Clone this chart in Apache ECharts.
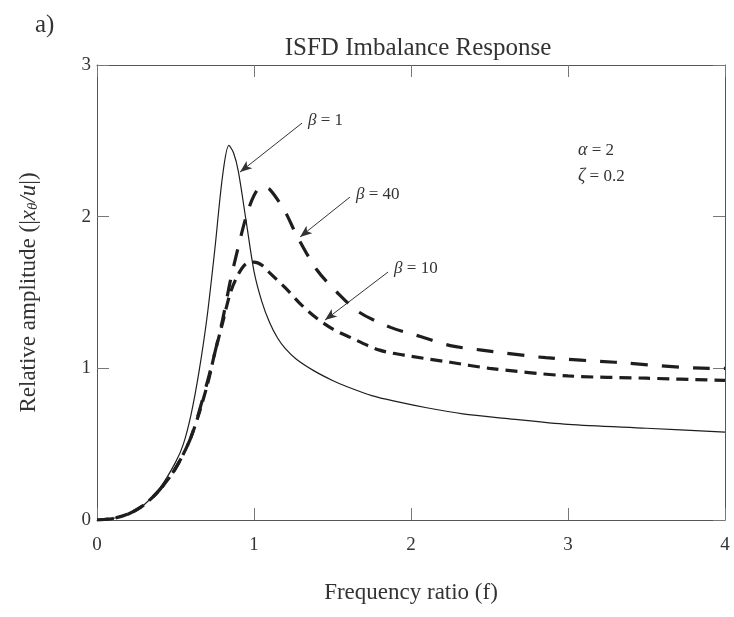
<!DOCTYPE html>
<html>
<head>
<meta charset="utf-8">
<script src="https://cdn.jsdelivr.net/npm/echarts@6/dist/echarts.min.js"></script>
<style>
html,body{margin:0;padding:0;background:#fff;}
#c{width:734px;height:617px;}
</style>
</head>
<body>
<div id="c"></div>
<script>
// Frequency ratio / amplitude readings
var fB1 = [0, 0.1, 0.2, 0.3, 0.4, 0.5, 0.55, 0.6, 0.65, 0.7, 0.75, 0.8, 0.84, 0.87, 0.9, 0.95, 1.0, 1.05, 1.1, 1.15, 1.2, 1.27, 1.38, 1.5, 1.59, 1.75, 1.91, 2.1, 2.33, 2.6, 3.0, 3.5, 4.0];
var vB1 = [0, 0.01, 0.04, 0.1, 0.21, 0.38, 0.5, 0.7, 0.98, 1.33, 1.78, 2.27, 2.47, 2.42, 2.3, 1.97, 1.64, 1.44, 1.30, 1.20, 1.13, 1.06, 0.985, 0.92, 0.88, 0.82, 0.78, 0.74, 0.70, 0.67, 0.63, 0.605, 0.58];

var fB40 = [0, 0.1, 0.2, 0.3, 0.4, 0.5, 0.6, 0.7, 0.75, 0.8, 0.85, 0.9, 0.95, 1.0, 1.05, 1.1, 1.2, 1.27, 1.4, 1.53, 1.67, 1.87, 2.06, 2.25, 2.45, 2.86, 3.3, 3.9, 4.0];
var vB40 = [0, 0.01, 0.04, 0.1, 0.2, 0.34, 0.55, 0.9, 1.1, 1.32, 1.58, 1.8, 2.0, 2.14, 2.2, 2.18, 2.03, 1.88, 1.65, 1.5, 1.37, 1.27, 1.21, 1.15, 1.12, 1.07, 1.04, 1.0, 1.0];

var fB10 = [0, 0.1, 0.2, 0.3, 0.4, 0.5, 0.6, 0.7, 0.75, 0.8, 0.85, 0.9, 0.95, 1.0, 1.05, 1.1, 1.2, 1.3, 1.4, 1.5, 1.6, 1.8, 2.0, 2.25, 2.5, 3.0, 3.5, 4.0];
var vB10 = [0, 0.01, 0.04, 0.1, 0.2, 0.34, 0.55, 0.88, 1.1, 1.3, 1.5, 1.62, 1.69, 1.70, 1.68, 1.63, 1.53, 1.42, 1.33, 1.26, 1.21, 1.12, 1.08, 1.04, 1.0, 0.95, 0.935, 0.92];

var xTicks = [0, 1, 2, 3, 4];
var yTicks = [0, 1, 2, 3];

// annotation arrows: [label, startF, startV, endF, endV]
var arrowB1 = ['1', 1.306, 2.617, 0.911, 2.294];
var arrowB40 = ['40', 1.611, 2.129, 1.293, 1.866];
var arrowB10 = ['10', 1.854, 1.635, 1.452, 1.318];
var paramText = ['{i|α} = 2', '{i|ζ} = 0.2'];
var paramPos = [3.064, 2.35];

function pairs(f, v) { return f.map(function (x, i) { return [x, v[i]]; }); }

var serif = 'Liberation Serif';
var ink = '#1e1e1e';
var txt = '#333';

function arrow(a) {
  return {
    silent: true,
    symbol: ['none', 'arrow'],
    symbolSize: [7, 12],
    lineStyle: { color: '#333', width: 1, type: 'solid' },
    label: { show: false },
    data: [[{ coord: [a[1], a[2]] }, { coord: [a[3], a[4]] }]]
  };
}

function arrowLabel(a, extra) {
  var pts = [{
    coord: [a[1], a[2]],
    label: {
      show: true, position: 'right', distance: 6, offset: [0, -3],
      formatter: '{i|β} = ' + a[0],
      fontFamily: serif, fontSize: 17, color: txt,
      rich: { i: { fontFamily: serif, fontStyle: 'italic', fontSize: 17, color: txt } }
    }
  }];
  if (extra) pts.push(extra);
  return { silent: true, symbol: 'circle', symbolSize: 0, data: pts };
}

var chart = echarts.init(document.getElementById('c'), null, { renderer: 'canvas' });
var axisLineStyle = { color: '#555', width: 1 };
var tickStyle = { color: '#777', width: 1 };
chart.setOption({
  animation: false,
  backgroundColor: '#fff',
  title: {
    text: 'ISFD Imbalance Response',
    left: 413, top: 31, textAlign: 'center',
    textStyle: { fontFamily: serif, fontWeight: 'normal', fontSize: 25, color: txt }
  },
  graphic: [{
    type: 'text', left: 35, top: 13,
    style: { text: 'a)', fontFamily: serif, fontSize: 25, fill: txt }
  }],
  grid: { left: 97, right: 9, top: 65, bottom: 97, containLabel: false },
  xAxis: [{
    type: 'value', min: 0, max: 4, interval: 1,
    name: 'Frequency ratio (f)', nameLocation: 'middle', nameGap: 61,
    nameTextStyle: { fontFamily: serif, fontSize: 23, color: txt },
    axisLine: { show: true, onZero: false, lineStyle: axisLineStyle },
    axisTick: { show: true, inside: true, length: 12, lineStyle: tickStyle },
    axisLabel: { fontFamily: serif, fontSize: 19, color: txt, margin: 16 },
    splitLine: { show: false }
  }, {
    type: 'value', min: 0, max: 4, interval: 1, position: 'top',
    axisLine: { show: true, onZero: false, lineStyle: axisLineStyle },
    axisTick: { show: true, inside: true, length: 12, lineStyle: tickStyle },
    axisLabel: { show: false }, splitLine: { show: false }
  }],
  yAxis: [{
    type: 'value', min: 0, max: 3, interval: 1,
    name: '{n|Relative amplitude (|}{i|x}{s|θ}{i|/u}{n||)}', nameLocation: 'middle', nameGap: 56,
    nameRotate: 90,
    nameTextStyle: {
      fontFamily: serif, fontSize: 23, color: txt,
      rich: {
        n: { fontFamily: serif, fontSize: 23, color: txt },
        i: { fontFamily: serif, fontSize: 23, fontStyle: 'italic', color: txt },
        s: { fontFamily: serif, fontSize: 15, fontStyle: 'italic', color: txt, padding: [10, 0, 0, 0] }
      }
    },
    axisLine: { show: true, onZero: false, lineStyle: axisLineStyle },
    axisTick: { show: true, inside: true, length: 12, lineStyle: tickStyle },
    axisLabel: { fontFamily: serif, fontSize: 19, color: txt, margin: 6 },
    splitLine: { show: false }
  }, {
    type: 'value', min: 0, max: 3, interval: 1, position: 'right',
    axisLine: { show: true, onZero: false, lineStyle: axisLineStyle },
    axisTick: { show: true, inside: true, length: 12, lineStyle: tickStyle },
    axisLabel: { show: false }, splitLine: { show: false }
  }],
  series: [{
    name: 'β = 1', type: 'line', data: pairs(fB1, vB1), smooth: 0.3,
    showSymbol: false, symbol: 'none',
    lineStyle: { color: ink, width: 1.2, type: 'solid' },
    markLine: arrow(arrowB1),
    markPoint: arrowLabel(arrowB1, {
      coord: paramPos,
      label: {
        show: true, position: 'right', distance: 0,
        formatter: paramText.join('\n'), lineHeight: 26,
        fontFamily: serif, fontSize: 17, color: txt,
        rich: { i: { fontFamily: serif, fontStyle: 'italic', fontSize: 18, color: txt, lineHeight: 26 } }
      }
    })
  }, {
    name: 'β = 40', type: 'line', data: pairs(fB40, vB40), smooth: 0.3,
    showSymbol: false, symbol: 'none',
    lineStyle: { color: ink, width: 3.2, type: [17, 14] },
    markLine: arrow(arrowB40),
    markPoint: arrowLabel(arrowB40)
  }, {
    name: 'β = 10', type: 'line', data: pairs(fB10, vB10), smooth: 0.3,
    showSymbol: false, symbol: 'none',
    lineStyle: { color: ink, width: 3.2, type: [12, 7] },
    markLine: arrow(arrowB10),
    markPoint: arrowLabel(arrowB10)
  }]
});
</script>
</body>
</html>
